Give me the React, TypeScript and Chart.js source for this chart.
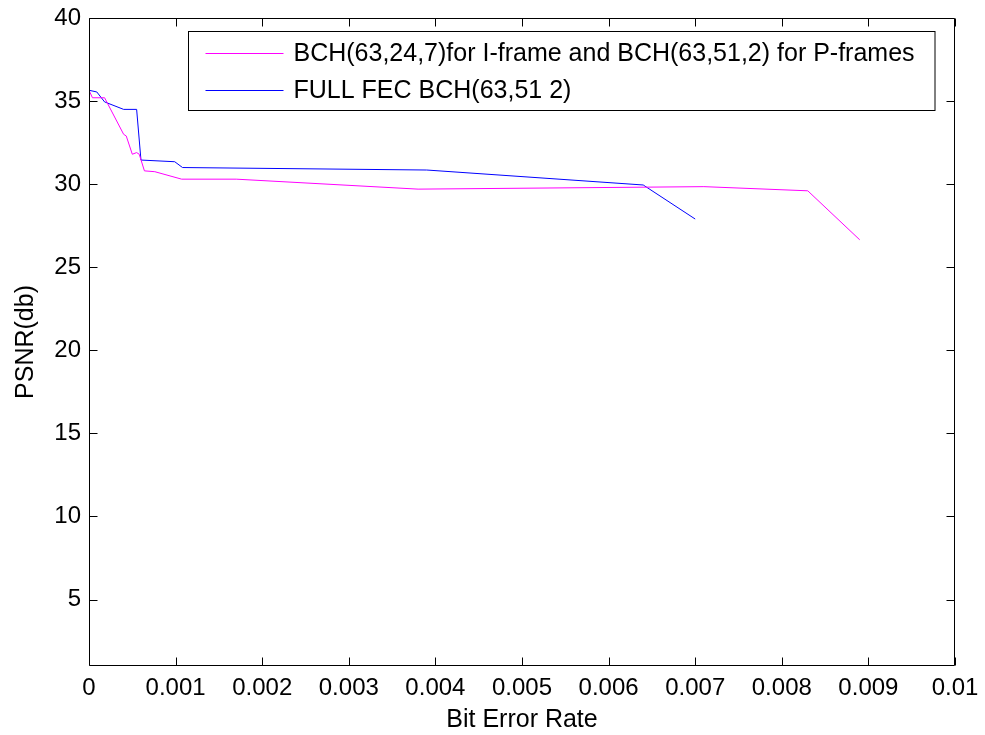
import React, { useEffect, useRef } from 'react';
import { Chart, registerables } from 'chart.js';

Chart.register(...registerables);

// Series: BCH(63,24,7) for I-frame + BCH(63,51,2) for P-frames
const berUEP = [0, 0.00004, 0.00018, 0.0004, 0.00043, 0.0005, 0.00055, 0.00058, 0.00064, 0.00076, 0.00107, 0.0017, 0.0038, 0.0071, 0.0083, 0.0089];
const psnrUEP = [35.65, 35.2, 35.2, 33.0, 32.9, 31.8, 31.9, 31.8, 30.8, 30.75, 30.3, 30.3, 29.7, 29.85, 29.6, 26.65];

// Series: FULL FEC BCH(63,51,2)
const berFEC = [0, 0.00009, 0.00018, 0.0004, 0.00055, 0.0006, 0.00099, 0.00108, 0.0039, 0.0064, 0.007];
const psnrFEC = [35.65, 35.55, 34.95, 34.5, 34.5, 31.45, 31.35, 31.0, 30.85, 29.95, 27.9];

const seriesLabels = [
  'BCH(63,24,7)for I-frame and BCH(63,51,2) for P-frames',
  'FULL FEC BCH(63,51 2)',
];
const seriesColors = ['#ff00ff', '#0000ff'];

const xTickValues = [0, 0.001, 0.002, 0.003, 0.004, 0.005, 0.006, 0.007, 0.008, 0.009, 0.01];
const xTickLabels = ['0', '0.001', '0.002', '0.003', '0.004', '0.005', '0.006', '0.007', '0.008', '0.009', '0.01'];
const yTickValues = [5, 10, 15, 20, 25, 30, 35, 40];
const yTickLabels = ['5', '10', '15', '20', '25', '30', '35', '40'];

const xTitle = 'Bit Error Rate';
const yTitle = 'PSNR(db)';

const FONT = "'Liberation Sans', Arial, sans-serif";

const boxPlugin = {
  id: 'matlabBox',
  afterDatasetsDraw(chart: any) {
    const { ctx, chartArea, scales } = chart;
    const { left, right, top, bottom } = chartArea;
    const L = Math.round(left) + 0.5;
    const R = Math.round(right) - 0.5;
    const T = Math.round(top) + 0.5;
    const B = Math.round(bottom) - 0.5;
    const len = 8;
    ctx.save();
    ctx.strokeStyle = '#000';
    ctx.lineWidth = 1;
    ctx.beginPath();
    ctx.rect(L, T, R - L, B - T);
    ctx.stroke();
    ctx.beginPath();
    xTickValues.forEach((v) => {
      const px = Math.round(scales.x.getPixelForValue(v)) + 0.5;
      ctx.moveTo(px, B);
      ctx.lineTo(px, B - len);
      ctx.moveTo(px, T);
      ctx.lineTo(px, T + len);
    });
    yTickValues.forEach((v) => {
      const py = Math.round(scales.y.getPixelForValue(v)) + 0.5;
      ctx.moveTo(L, py);
      ctx.lineTo(L + len, py);
      ctx.moveTo(R, py);
      ctx.lineTo(R - len, py);
    });
    ctx.stroke();
    ctx.restore();
  },
};

const legendPlugin = {
  id: 'matlabLegend',
  afterDraw(chart: any) {
    const { ctx, chartArea } = chart;
    const bx = Math.round(chartArea.left + 99) + 0.5;
    const by = Math.round(chartArea.top + 13) + 0.5;
    const bw = Math.round(chartArea.right - 20) - bx;
    const bh = 79;
    ctx.save();
    ctx.fillStyle = '#fff';
    ctx.fillRect(bx, by, bw, bh);
    ctx.strokeStyle = '#000';
    ctx.lineWidth = 1;
    ctx.strokeRect(bx, by, bw, bh);
    ctx.font = `25px ${FONT}`;
    ctx.textBaseline = 'middle';
    ctx.textAlign = 'left';
    const rows = [21, 58];
    chart.data.datasets.forEach((ds: any, i: number) => {
      const y = Math.round(by + rows[i]) + 0.5;
      ctx.strokeStyle = ds.borderColor;
      ctx.beginPath();
      ctx.moveTo(bx + 17, y);
      ctx.lineTo(bx + 95, y);
      ctx.stroke();
      ctx.fillStyle = '#000';
      ctx.fillText(ds.label, bx + 105, y + 1);
    });
    ctx.restore();
  },
};

export default function App() {
  const canvasRef = useRef<HTMLCanvasElement | null>(null);

  useEffect(() => {
    const canvas = canvasRef.current;
    if (!canvas) return;
    const chart = new Chart(canvas, {
      type: 'scatter',
      data: {
        datasets: [
          {
            label: seriesLabels[0],
            data: berUEP.map((x, i) => ({ x, y: psnrUEP[i] })),
            borderColor: seriesColors[0],
            backgroundColor: seriesColors[0],
            borderWidth: 1,
            pointRadius: 0,
            showLine: true,
            tension: 0,
            fill: false,
          },
          {
            label: seriesLabels[1],
            data: berFEC.map((x, i) => ({ x, y: psnrFEC[i] })),
            borderColor: seriesColors[1],
            backgroundColor: seriesColors[1],
            borderWidth: 1,
            pointRadius: 0,
            showLine: true,
            tension: 0,
            fill: false,
          },
        ],
      },
      options: {
        animation: false,
        responsive: false,
        devicePixelRatio: 1,
        layout: { padding: { top: 18, right: 30, left: 0, bottom: 0 } },
        plugins: {
          legend: { display: false },
          tooltip: { enabled: false },
        },
        scales: {
          x: {
            type: 'linear',
            min: 0,
            max: 0.01,
            afterBuildTicks: (s: any) => {
              s.ticks = xTickValues.map((value) => ({ value }));
            },
            afterFit: (s: any) => {
              s.height = 69;
              s.paddingLeft = 0;
              s.paddingRight = 0;
            },
            grid: { display: false, drawTicks: false },
            border: { display: false },
            ticks: {
              padding: 8,
              color: '#000',
              autoSkip: false,
              maxRotation: 0,
              font: { family: FONT, size: 24 },
              callback: (_v: any, i: number) => xTickLabels[i],
            },
            title: {
              display: true,
              text: xTitle,
              color: '#000',
              font: { family: FONT, size: 25 },
              padding: { top: 0, bottom: 0 },
            },
          },
          y: {
            type: 'linear',
            min: 1,
            max: 40,
            afterBuildTicks: (s: any) => {
              s.ticks = yTickValues.map((value) => ({ value }));
            },
            afterFit: (s: any) => {
              s.width = 89;
              s.paddingTop = 0;
              s.paddingBottom = 0;
            },
            grid: { display: false, drawTicks: false },
            border: { display: false },
            ticks: {
              padding: 8,
              color: '#000',
              autoSkip: false,
              font: { family: FONT, size: 24 },
              callback: (_v: any, i: number) => yTickLabels[i],
            },
            title: {
              display: true,
              text: yTitle,
              color: '#000',
              font: { family: FONT, size: 25 },
              padding: { top: 11, bottom: 0 },
            },
          },
        },
      },
      plugins: [boxPlugin, legendPlugin],
    } as any);
    return () => chart.destroy();
  }, []);

  return (
    <div style={{ position: 'absolute', left: 0, top: 0, width: 985, height: 735, background: '#fff' }}>
      <canvas ref={canvasRef} width={985} height={735} style={{ display: 'block' }} />
    </div>
  );
}
